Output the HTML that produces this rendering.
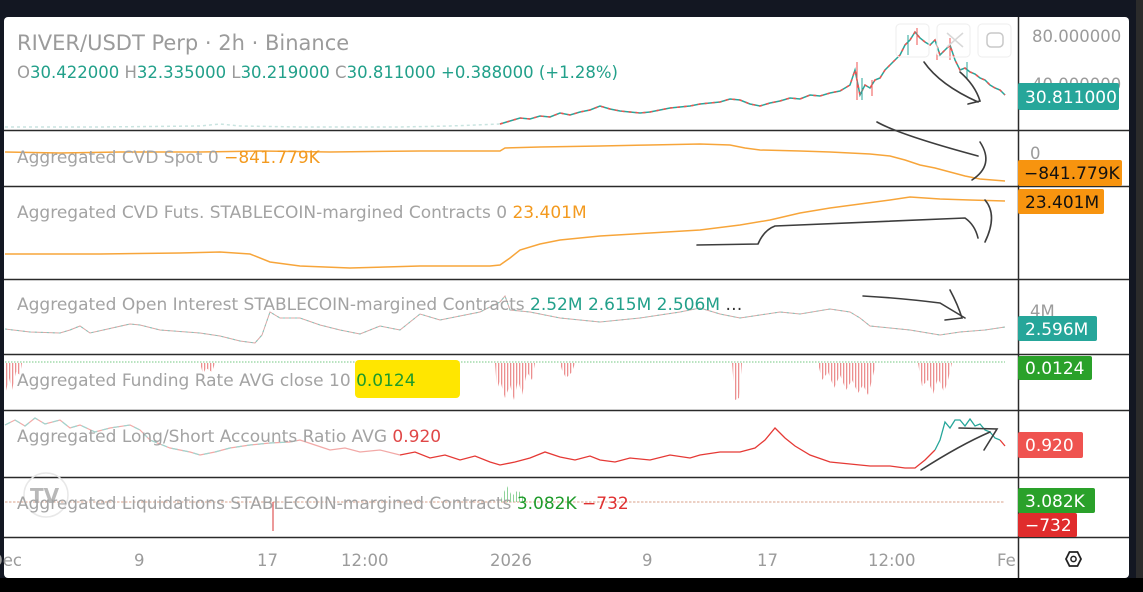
<!DOCTYPE html>
<html><head><meta charset="utf-8">
<style>
html,body{margin:0;padding:0;background:#131722;}
body{width:1143px;height:592px;overflow:hidden;position:relative;}
svg{position:absolute;left:0;top:0;}
</style></head>
<body>
<svg width="1143" height="592" xmlns="http://www.w3.org/2000/svg" font-family="DejaVu Sans, Liberation Sans, sans-serif">
<defs>
<pattern id="rs" width="3" height="10" patternUnits="userSpaceOnUse"><rect x="0" y="0" width="1.3" height="10" fill="#ec8f8f"/></pattern>
<pattern id="gs" width="3" height="10" patternUnits="userSpaceOnUse"><rect x="0" y="0" width="1" height="10" fill="#8fd39a"/></pattern>
<clipPath id="cf"><rect x="990" y="540" width="28" height="30"/></clipPath>
</defs>
<rect x="0" y="0" width="1143" height="592" fill="#131722"/>
<rect x="1136" y="0" width="7" height="592" fill="#2b2b2b"/>
<rect x="0" y="578" width="1143" height="14" fill="#000"/>
<rect x="4" y="17" width="1125" height="561" fill="#fff" rx="4"/>
<g stroke="#2a2a2a" stroke-width="1.5">
<line x1="4" y1="130.5" x2="1129" y2="130.5"/>
<line x1="4" y1="186.5" x2="1129" y2="186.5"/>
<line x1="4" y1="279.5" x2="1129" y2="279.5"/>
<line x1="4" y1="354.5" x2="1129" y2="354.5"/>
<line x1="4" y1="410.5" x2="1129" y2="410.5"/>
<line x1="4" y1="477.5" x2="1129" y2="477.5"/>
<line x1="4" y1="537.5" x2="1129" y2="537.5"/>
<line x1="1018.5" y1="17" x2="1018.5" y2="578"/>
</g>
<!-- price -->
<polyline fill="none" stroke="#c9e4e0" stroke-width="1.5" stroke-dasharray="3 3" points="5,127 100,127 200,126 220,124 240,126 300,127 400,127 450,126 500,124"/>
<polyline fill="none" stroke="#26a69a" stroke-width="1.5" points="500,124 510,121 520,118 530,119 540,116 550,117 560,113 570,115 580,112 590,110 600,106 610,109 620,111 630,112 640,113 650,112 660,110 670,108 680,107 690,106 700,104 710,103 720,102 730,99 740,100 750,104 760,106 770,103 780,101 790,98 800,99 810,95 820,96 830,93 840,91 850,85 855,70 860,95 865,85 870,88 875,80 880,78 885,70 890,65 895,60 900,55 905,45 910,40 915,32 920,38 925,42 930,45 935,40 940,55 945,50 950,45 955,60 960,70 965,68 970,72 975,74 980,78 985,80 990,85 995,88 1000,90 1005,95"/>
<polyline fill="none" stroke="#ef5350" stroke-width="1.5" stroke-dasharray="3 4" points="500,124 510,121 520,118 530,119 540,116 550,117 560,113 570,115 580,112 590,110 600,106 610,109 620,111 630,112 640,113 650,112 660,110 670,108 680,107 690,106 700,104 710,103 720,102 730,99 740,100 750,104 760,106 770,103 780,101 790,98 800,99 810,95 820,96 830,93 840,91 850,85 855,70 860,95 865,85 870,88 875,80 880,78 885,70 890,65 895,60 900,55 905,45 910,40 915,32 920,38 925,42 930,45 935,40 940,55 945,50 950,45 955,60 960,70 965,68 970,72 975,74 980,78 985,80 990,85 995,88 1000,90 1005,95"/>
<g stroke="#ef5350" stroke-width="1"><line x1="857" y1="62" x2="857" y2="100"/><line x1="872" y1="80" x2="872" y2="96"/><line x1="917" y1="28" x2="917" y2="45"/><line x1="950" y1="38" x2="950" y2="60"/><line x1="937" y1="35" x2="937" y2="60"/></g>
<g stroke="#26a69a" stroke-width="1"><line x1="862" y1="78" x2="862" y2="100"/><line x1="908" y1="35" x2="908" y2="55"/><line x1="967" y1="62" x2="967" y2="78"/></g>
<!-- CVD spot -->
<polyline fill="none" stroke="#f7a53a" stroke-width="1.5" points="5,152 60,153 120,152 200,152 260,151 330,152 420,151 500,151 505,148 540,147 600,146 650,145 700,144 730,145 745,148 760,150 800,151 830,152 870,154 890,156 905,160 920,165 935,168 950,172 965,176 980,179 1005,181"/>
<!-- CVD futs -->
<polyline fill="none" stroke="#f7a53a" stroke-width="1.5" points="5,254 100,254 180,253 220,252 250,254 270,262 300,266 350,268 420,266 490,266 500,265 510,258 520,250 540,244 560,240 600,236 650,233 700,230 740,225 770,220 800,213 830,208 860,204 890,200 910,197 940,199 970,200 1005,201"/>
<!-- OI -->
<polyline fill="none" stroke="#d8a7a5" stroke-width="1" points="5,329 30,332 60,333 70,330 80,326 90,333 130,324 140,325 160,330 200,333 220,336 240,341 255,343 262,335 270,312 280,318 300,318 320,325 340,330 360,334 380,326 400,330 420,314 440,320 460,316 480,312 500,302 505,296 510,310 530,312 560,318 600,322 640,318 680,312 700,308 720,314 740,318 760,315 780,312 800,314 830,309 850,312 860,318 870,326 890,328 910,330 940,335 960,332 985,330 1005,327"/>
<polyline fill="none" stroke="#7fc8bd" stroke-width="1" stroke-dasharray="2 4" points="5,329 30,332 60,333 70,330 80,326 90,333 130,324 140,325 160,330 200,333 220,336 240,341 255,343 262,335 270,312 280,318 300,318 320,325 340,330 360,334 380,326 400,330 420,314 440,320 460,316 480,312 500,302 505,296 510,310 530,312 560,318 600,322 640,318 680,312 700,308 720,314 740,318 760,315 780,312 800,314 830,309 850,312 860,318 870,326 890,328 910,330 940,335 960,332 985,330 1005,327"/>
<!-- funding -->
<line x1="5" y1="362" x2="1005" y2="362" stroke="#8fd39a" stroke-width="1.2" stroke-dasharray="1.5 1.5"/>
<polygon fill="url(#rs)" points="5,363 22,363 20,375 16,372 12,390 9,378 5,395"/>
<polygon fill="url(#rs)" points="200,363 215,363 212,372 206,368 203,374"/>
<polygon fill="url(#rs)" points="495,363 535,363 532,380 527,372 522,395 518,380 514,400 510,385 505,398 500,380 497,390"/>
<polygon fill="url(#rs)" points="560,363 575,363 572,372 566,378 562,370"/>
<polygon fill="url(#rs)" points="732,363 742,363 739,398 735,400"/>
<polygon fill="url(#rs)" points="818,363 876,363 872,380 868,395 863,385 858,393 852,380 846,390 840,375 834,388 828,372 822,380"/>
<polygon fill="url(#rs)" points="918,363 952,363 948,380 944,392 938,378 933,394 928,380 922,386"/>
<!-- L/S -->
<polyline fill="none" stroke="#f2a9a7" stroke-width="1.2" points="5,425 15,420 25,426 35,418 45,424 60,420 70,428 80,425 95,432 110,428 130,425 140,430 150,440 170,448 190,452 200,455 215,452 230,448 250,445 270,443 290,442 300,440 315,445 330,450 345,448 360,452 380,450 400,455"/>
<polyline fill="none" stroke="#9fd6cf" stroke-width="1.2" stroke-dasharray="6 5" points="5,425 15,420 25,426 35,418 45,424 60,420 70,428 80,425 95,432 110,428 130,425 140,430 150,440 170,448 190,452 200,455 215,452 230,448 250,445 270,443 290,442 300,440"/>
<polyline fill="none" stroke="#e53935" stroke-width="1.3" points="400,455 415,452 430,458 445,455 460,460 475,456 490,462 500,465 515,462 530,458 545,452 560,457 575,460 590,456 600,460 615,462 630,458 650,460 670,455 690,458 700,455 720,452 740,452 755,448 765,440 775,428 785,438 795,446 810,455 830,462 850,464 870,466 890,466 905,468 915,468 925,460 935,450"/>
<polyline fill="none" stroke="#26a69a" stroke-width="1.3" points="935,450 940,440 945,422 950,428 955,420 960,420 965,426 970,419 975,426 980,424 985,430 990,432 995,438 1000,440"/>
<polyline fill="none" stroke="#e53935" stroke-width="1.3" points="1000,440 1005,446"/>
<!-- liquidations -->
<line x1="5" y1="502" x2="1005" y2="502" stroke="#d9a08a" stroke-width="1" stroke-dasharray="2.5 1.5"/>
<line x1="273" y1="502" x2="273" y2="531" stroke="#e05555" stroke-width="1.2"/>
<polygon fill="url(#gs)" points="500,502 525,502 522,495 518,490 512,496 507,486 503,494"/>
<!-- buttons -->
<g fill="none" stroke="#eeeeee" stroke-width="1">
<rect x="896" y="24" width="33" height="33" rx="4"/>
<rect x="937" y="24" width="33" height="33" rx="4"/>
<rect x="978" y="24" width="33" height="33" rx="4"/>
</g>
<path d="M947 33 L955 40 L963 33 M947 47 L955 40 L963 47" stroke="#d8d8d8" fill="none" stroke-width="1.5"/>
<rect x="987" y="33" width="16" height="14" rx="4" fill="none" stroke="#c8c8c8" stroke-width="1.5"/>
<circle cx="46" cy="495" r="22" fill="none" stroke="#e8e8e8" stroke-width="1.5"/>
<text x="30" y="503" font-size="20" font-weight="bold" fill="#b8b8b8">TV</text>
<rect x="355" y="360" width="105" height="38" rx="4" fill="#ffe600"/>
<!-- text -->
<text x="17" y="50" font-size="21" fill="#9b9b9b">RIVER/USDT Perp · 2h · Binance</text>
<text x="17" y="78" font-size="16.5"><tspan fill="#9b9b9b">O</tspan><tspan fill="#22a08a">30.422000</tspan><tspan fill="#9b9b9b"> H</tspan><tspan fill="#22a08a">32.335000</tspan><tspan fill="#9b9b9b"> L</tspan><tspan fill="#22a08a">30.219000</tspan><tspan fill="#9b9b9b"> C</tspan><tspan fill="#22a08a">30.811000 +0.388000 (+1.28%)</tspan></text>
<g font-size="17" fill="#a3a3a3">
<text x="17" y="163">Aggregated CVD Spot 0 <tspan fill="#f39a1f">−841.779K</tspan></text>
<text x="17" y="218">Aggregated CVD Futs. STABLECOIN-margined Contracts 0 <tspan fill="#f39a1f">23.401M</tspan></text>
<text x="17" y="310">Aggregated Open Interest STABLECOIN-margined Contracts <tspan fill="#22a08a">2.52M 2.615M 2.506M</tspan> <tspan fill="#333">…</tspan></text>
<text x="17" y="386">Aggregated Funding Rate AVG close 10 <tspan fill="#1f9b2a">0.0124</tspan></text>
<text x="17" y="442">Aggregated Long/Short Accounts Ratio AVG <tspan fill="#e04848">0.920</tspan></text>
<text x="17" y="509">Aggregated Liquidations STABLECOIN-margined Contracts <tspan fill="#1f9b2a">3.082K</tspan> <tspan fill="#e03030">−732</tspan></text>
</g>
<g font-size="16.5" fill="#9b9b9b">
<text x="1032" y="42">80.000000</text>
<text x="1032" y="90">40.000000</text>
<text x="1030" y="159">0</text>
<text x="1030" y="317">4M</text>
</g>
<g font-size="17">
<rect x="1018" y="83" width="101" height="27" rx="2" fill="#26a69a"/>
<text x="1025" y="103" fill="#fff">30.811000</text>
<rect x="1018" y="160" width="104" height="26" rx="2" fill="#f7940f"/>
<text x="1024" y="179" fill="#111">−841.779K</text>
<rect x="1018" y="189" width="86" height="25" rx="2" fill="#f7940f"/>
<text x="1025" y="208" fill="#111">23.401M</text>
<rect x="1018" y="316" width="79" height="25" rx="2" fill="#26a69a"/>
<text x="1025" y="335" fill="#fff">2.596M</text>
<rect x="1018" y="356" width="74" height="24" rx="2" fill="#2aa12a"/>
<text x="1025" y="374" fill="#fff">0.0124</text>
<rect x="1018" y="432" width="65" height="26" rx="2" fill="#ef5350"/>
<text x="1025" y="451" fill="#fff">0.920</text>
<rect x="1018" y="488" width="77" height="25" rx="2" fill="#2aa12a"/>
<text x="1025" y="507" fill="#fff">3.082K</text>
<rect x="1018" y="513" width="59" height="24" rx="2" fill="#e02c2c"/>
<text x="1025" y="531" fill="#fff">−732</text>
</g>
<g font-size="16.5" fill="#9b9b9b">
<text x="-10" y="566">Dec</text>
<text x="134" y="566">9</text>
<text x="257" y="566">17</text>
<text x="341" y="566">12:00</text>
<text x="490" y="566">2026</text>
<text x="642" y="566">9</text>
<text x="757" y="566">17</text>
<text x="868" y="566">12:00</text>
<text x="997" y="566" clip-path="url(#cf)">Fe</text>
</g>
<polygon points="1066,559 1069.5,552 1077.5,552 1081,559 1077.5,566 1069.5,566" fill="none" stroke="#222" stroke-width="1.8"/>
<circle cx="1073.5" cy="559" r="2.6" fill="none" stroke="#222" stroke-width="1.5"/>
<g fill="none" stroke="#3d3d3d" stroke-width="1.6" stroke-linecap="round">
<path d="M924 62 Q940 85 978 102"/>
<path d="M960 72 Q975 85 980 101 L968 104"/>
<path d="M877 122 Q900 135 978 156"/>
<path d="M980 142 Q995 165 972 180"/>
<path d="M697 245 L758 244 Q764 230 775 226 L965 218 Q975 225 978 238"/>
<path d="M985 200 Q998 215 985 242"/>
<path d="M863 296 Q900 298 940 303 L965 318"/>
<path d="M950 290 Q958 305 962 318 L945 320"/>
<path d="M921 470 Q960 445 990 432"/>
<path d="M959 428 L997 429 L984 450"/>
</g>
</svg>
</body></html>
